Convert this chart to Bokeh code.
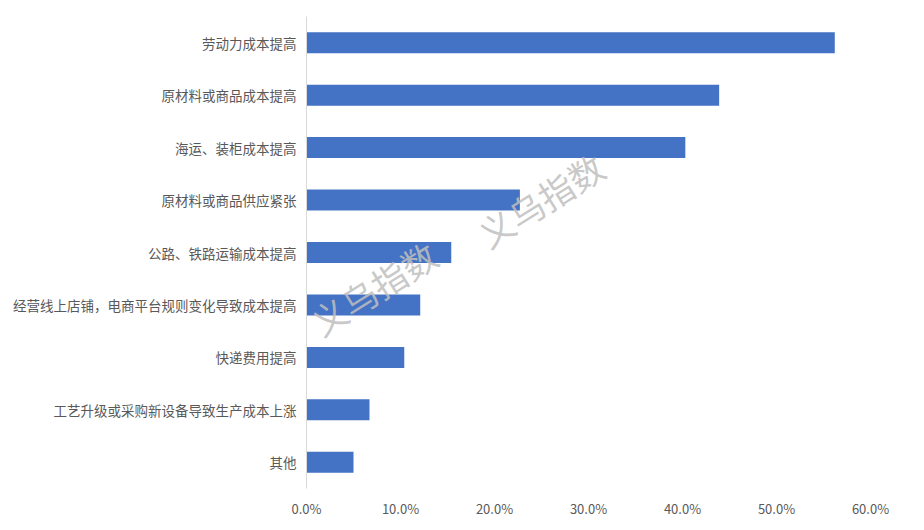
from bokeh.plotting import figure
from bokeh.models import FactorRange, Range1d, NumeralTickFormatter, FixedTicker, Label, ColumnDataSource
from bokeh.embed import file_html
from bokeh.resources import INLINE
import math

categories = ["劳动力成本提高", "原材料或商品成本提高", "海运、装柜成本提高", "原材料或商品供应紧张",
              "公路、铁路运输成本提高", "经营线上店铺，电商平台规则变化导致成本提高", "快递费用提高",
              "工艺升级或采购新设备导致生产成本上涨", "其他"]
values = [0.562, 0.439, 0.403, 0.227, 0.154, 0.121, 0.104, 0.067, 0.050]
x_ticks = [0.0, 0.1, 0.2, 0.3, 0.4, 0.5, 0.6]

FONT = "Noto Sans CJK SC"

src = ColumnDataSource(dict(cat=categories, val=values))

p = figure(width=908, height=520, output_backend="svg", toolbar_location=None,
           y_range=FactorRange(factors=list(reversed(categories)), range_padding=0),
           x_range=Range1d(0, 0.6))
p.min_border_left = 306
p.min_border_right = 38
p.min_border_top = 16
p.min_border_bottom = 25
p.outline_line_color = None
p.background_fill_color = "white"
p.border_fill_color = "white"

p.hbar(y="cat", right="val", left=0, height=0.4, source=src, color="#4472C4", line_color=None)

p.xgrid.grid_line_color = None
p.ygrid.grid_line_color = None

p.xaxis.ticker = FixedTicker(ticks=x_ticks)
p.xaxis.formatter = NumeralTickFormatter(format="0.0%")
p.xaxis.axis_line_color = None
p.xaxis.major_tick_line_color = None
p.xaxis.minor_tick_line_color = None
p.xaxis.major_label_text_font = FONT
p.xaxis.major_label_text_font_size = "13px"
p.xaxis.major_label_text_color = "#595959"
p.xaxis.major_label_standoff = 4

p.yaxis.axis_line_color = "#d9d9d9"
p.yaxis.axis_line_width = 1
p.yaxis.major_tick_line_color = None
p.yaxis.minor_tick_line_color = None
p.yaxis.major_label_text_font = FONT
p.yaxis.major_label_text_font_size = "13.5px"
p.yaxis.major_label_text_color = "#595959"
p.yaxis.major_label_standoff = 4

ang = math.radians(32)
for sx, sy in [(67, 201), (234, 289)]:
    p.add_layout(Label(x=sx, y=sy, x_units="screen", y_units="screen", text="义乌指数",
                       angle=ang, text_font=FONT, text_font_size="35px",
                       text_color="#bfbfbf", text_alpha=0.85,
                       text_align="center", text_baseline="middle"))

open("out.html", "w").write(file_html(p, INLINE))
